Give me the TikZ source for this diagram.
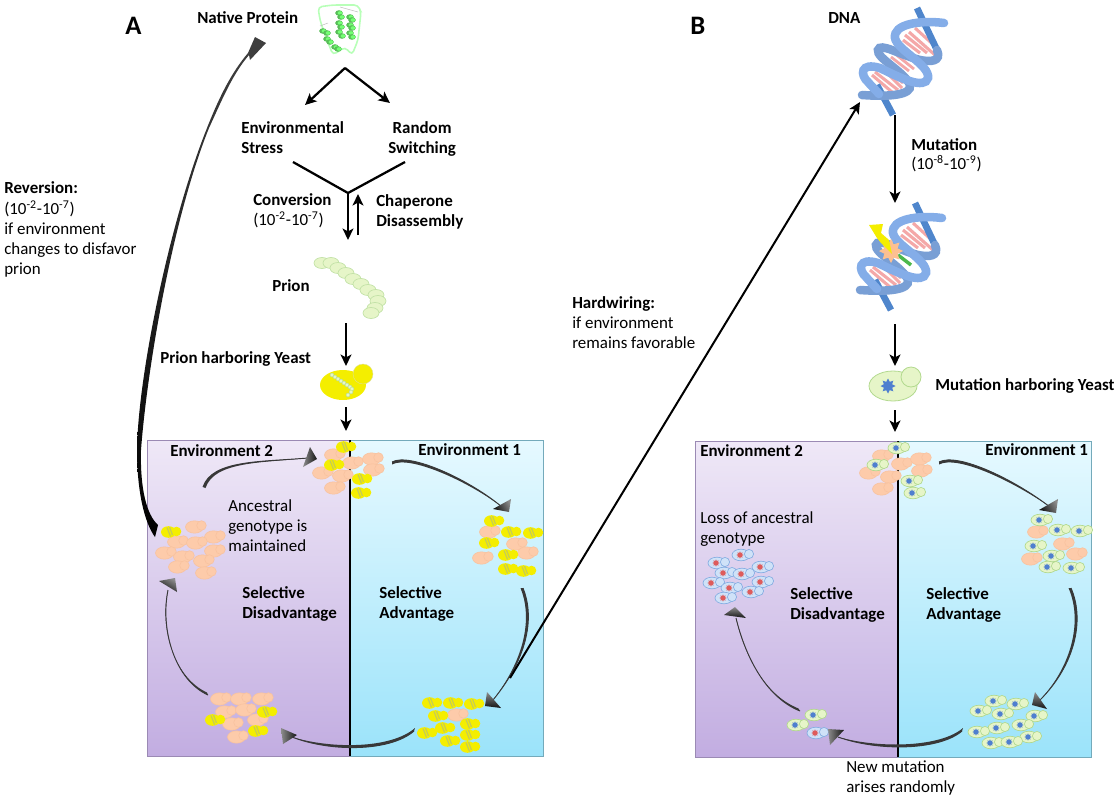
\documentclass[tikz,border=0pt]{standalone}
\usepackage{fontspec}
\setmainfont{Carlito}
\usetikzlibrary{arrows.meta,calc}
\definecolor{lpTop}{HTML}{EFE8F7}\definecolor{lpBot}{HTML}{C2ADE1}
\definecolor{rpTop}{HTML}{E6F9FF}\definecolor{rpBot}{HTML}{9BE3FA}
\definecolor{orF}{HTML}{FDCBAA}\definecolor{orD}{HTML}{F8C29E}
\definecolor{yeF}{HTML}{F4EE00}\definecolor{yeS}{HTML}{C6CC55}
\definecolor{grF}{HTML}{E6F5C8}\definecolor{grD}{HTML}{B2D98E}
\definecolor{nuB}{HTML}{4F7FCF}\definecolor{nuR}{HTML}{DE5B5B}
\definecolor{blF}{HTML}{CFE2F8}\definecolor{blD}{HTML}{86AEE2}
\definecolor{ribL}{HTML}{84ADE8}\definecolor{ribD}{HTML}{4F86CC}
\definecolor{rung}{HTML}{F4A8A8}
\tikzset{
 lab/.style={anchor=north west,inner sep=0pt,align=left,execute at begin node={\strut},font=\fontsize{12.7}{15}\selectfont},
 labb/.style={lab,font=\fontsize{12.7}{15}\selectfont\bfseries},
 flow/.style={line width=1.7pt,-{Stealth[length=8.5pt,width=8pt,inset=2pt]}},
 plainline/.style={line width=1.7pt},
}
\newcommand\spark[4]{\fill[#4,shift={(#1,#2)},scale=#3] (0:1)--(22:.6)--(45:1)--(67:.6)--(90:1)--(112:.6)--(135:1)--(157:.6)--(180:1)--(202:.6)--(225:1)--(247:.6)--(270:1)--(292:.6)--(315:1)--(337:.6)--cycle;}
\newcommand\orc[2]{\begin{scope}[shift={(#1,#2)}]
 \filldraw[fill=orF,draw=orD,line width=.4pt] (-1.5,0) ellipse [x radius=9,y radius=6.2];
 \filldraw[fill=orF,draw=orD,line width=.4pt] (5.5,-1.5) circle [radius=4.8];\end{scope}}
\newcommand\yec[2]{\begin{scope}[shift={(#1,#2)}]
 \fill[yeF] (-2.5,0) ellipse [x radius=7.5,y radius=5.8];
 \fill[yeF] (5.5,-.5) circle [radius=4.8];
 \draw[yeS,line width=.9pt] (-4,-4.5)--(-.5,4.5) (-1.5,-5)--(1.5,3);\end{scope}}
\newcommand\grc[2]{\begin{scope}[shift={(#1,#2)}]
 \filldraw[fill=grF,draw=grD,line width=.5pt] (-1,0) ellipse [x radius=9,y radius=5.8];
 \filldraw[fill=grF,draw=grD,line width=.5pt] (7,-1) circle [radius=4.6];
 \spark{-2}{0}{3.6}{nuB}\end{scope}}
\newcommand\blc[2]{\begin{scope}[shift={(#1,#2)}]
 \filldraw[fill=blF,draw=blD,line width=.5pt] (-1,0) ellipse [x radius=9,y radius=5.8];
 \filldraw[fill=blF,draw=blD,line width=.5pt] (7,-1) circle [radius=4.6];
 \spark{-2}{0}{3.6}{nuR}\end{scope}}
\newcommand\taper[5]{\fill[black!78] (#1) .. controls (#2) and (#3) .. (#4) .. controls ($(#3)+(#5)$) and ($(#2)+(#5)$) .. ($(#1)+(#5)$) -- cycle;
 \draw[black!78,line width=.7pt] (#1) .. controls (#2) and (#3) .. (#4);}
\newcommand\head[4]{\shade[top color=black!45,bottom color=black!92,shading angle=#4] (#1) -- (#2) -- (#3) -- cycle;}
\newcommand\rungset[1]{\begin{scope}[shift={(#1)}]
 \draw[white,line width=13pt,line cap=round] (909,35)--(930,52) (878,74)--(897,89);
 \draw[rung,line width=2.3pt] (915,28)--(937,48) (909,32)--(935,55) (905,35)--(927,53) (903,40)--(920,53)
  (885,67)--(903,83) (882,68)--(902,88) (875,72)--(898,90) (872,75)--(892,92);\end{scope}}
\newcommand\strandset[1]{\begin{scope}[shift={(#1)}]
 \draw[ribD,line width=5pt] (917,8)--(937,50) (877,85)--(893,115);
 \draw[ribL!92!black,line width=6.4pt,line cap=round] (937,50) .. controls (942,62) and (930,62) .. (920,60) .. controls (900,55) and (880,42) .. (878,50) .. controls (876,58) and (905,72) .. (910,85) .. controls (912,95) and (890,97) .. (862,95);
 \draw[ribL,line width=6.4pt,line cap=round] (944,23) .. controls (920,20) and (893,24) .. (895,38) .. controls (897,50) and (930,65) .. (928,78) .. controls (925,90) and (900,78) .. (880,68) .. controls (860,62) and (860,75) .. (868,82) .. controls (872,87) and (876,90) .. (879,94);
 \end{scope}}
\begin{document}
\begin{tikzpicture}[x=0.75pt,y=-0.75pt]
\useasboundingbox (0,0) rectangle (1118,800);
% panels
\shade[top color=lpTop,bottom color=lpBot] (147,440) rectangle (350,756);
\shade[top color=rpTop,bottom color=rpBot] (350,440) rectangle (543,756);
\draw[black!20!lpBot,line width=.6pt] (350,440)--(147,440)--(147,756)--(350,756);
\draw[rpBot!75!black,line width=.6pt] (350,440)--(543,440)--(543,756)--(350,756);
\draw[line width=2pt] (350,440)--(350,756);
\shade[top color=lpTop,bottom color=lpBot] (695,441) rectangle (898,757);
\shade[top color=rpTop,bottom color=rpBot] (898,441) rectangle (1091,757);
\draw[black!20!lpBot,line width=.6pt] (898,441)--(695,441)--(695,757)--(898,757);
\draw[rpBot!75!black,line width=.6pt] (898,441)--(1091,441)--(1091,757)--(898,757);
\draw[line width=2pt] (898,441)--(898,757);
% cells A
\foreach \p/\q in {335/455,353/463,373/459,323/473,343/476,374/470,335/488, 490/532,517/544,528/553,483/558, 458/715, 221/699,241/699,263/699,226/712,246/710,258/720,233/724,238/737, 196/527,215/537,178/542,197/543,215/551,166/553,184/557,204/561,179/567,206/573}{\orc{\p}{\q}}
\foreach \p/\q in {346/447,334/465,362/479,361/493, 494/521,511/532,533/533,489/543,508/555,508/569,526/571, 432/703,453/703,474/704,438/716,470/724,445/728,470/735,427/733,450/741,470/747, 267/712,215/720,258/731, 171/532}{\yec{\p}{\q}}
% cells B
\foreach \p/\q in {883/456,902/464,921/459,870/473,891/477,922/471,883/489, 1038/532,1064/544,1077/554,1032/559}{\orc{\p}{\q}}
\foreach \p/\q in {898/448,877/465,911/481,914/493, 1041/520,1059/530,1081/531,1035/546,1053/556,1049/567,1073/568, 995/701,1017/704,980/711,1002/714,1036/716,1022/725,998/728,978/732,1030/737,992/743,1011/742, 815/715,797/725}{\grc{\p}{\q}}
\foreach \p/\q in {817/733,742/555,718/563,762/567,725/573,743/574,762/582,713/583,731/588,752/592,725/598}{\blc{\p}{\q}}
% curved arrows A
\coordinate (a1s) at (392,462); \coordinate (a1e) at (502,507);
\taper{a1s}{410,452}{470,480}{a1e}{0,2.5}\head{511,499}{493,509}{509,512}{-60}
\coordinate (a2s) at (523,588); \coordinate (a2e) at (493,700);
\taper{a2s}{534,615}{530,655}{a2e}{-2.5,0}\head{487,692}{501,708}{485,706}{0}
\coordinate (a3s) at (414,731); \coordinate (a3e) at (292,737);
\taper{a3s}{390,752}{330,752}{a3e}{1,-3}\head{281,728}{297,735}{283,744}{90}
\coordinate (a4s) at (208,695); \coordinate (a4e) at (168,590);
\taper{a4s}{175,680}{160,630}{a4e}{-1,-2.5}\head{159,581}{175,578}{177,592}{-30}
\coordinate (a5s) at (203,487); \coordinate (a5e) at (308,458);
\taper{a5s}{212,460}{260,462}{a5e}{2.5,1}\head{310,447}{317,459}{303,467}{90}
% curved arrows B
\coordinate (b1s) at (939,462); \coordinate (b1e) at (1050,507);
\taper{b1s}{958,452}{1015,480}{b1e}{0,2.5}\head{1058,499}{1039,510}{1056,513}{-60}
\coordinate (b2s) at (1071,588); \coordinate (b2e) at (1040,700);
\taper{b2s}{1085,620}{1075,665}{b2e}{-2.5,0}\head{1035,692}{1047,709}{1032,705}{0}
\coordinate (b3s) at (962,731); \coordinate (b3e) at (838,737);
\taper{b3s}{940,750}{880,752}{b3e}{1,-3}\head{828,729}{844,730}{830,745}{90}
\coordinate (b4s) at (800,711); \coordinate (b4e) at (736,618);
\taper{b4s}{765,697}{745,655}{b4e}{-1.5,-2.5}\head{735,607}{724,615}{746,618}{0}
% big reversal arrow
\shade[top color=black!75,middle color=black!55,bottom color=black]
 (155,537) .. controls (144,522) and (137,490) .. (137,450) .. controls (138,375) and (170,220) .. (207,128) .. controls (220,95) and (232,72) .. (248,53) -- (255,37) -- (266,43) -- (250,60) -- (249,55) .. controls (232,75) and (222,100) .. (209,128) .. controls (172,220) and (147,370) .. (141,450) .. controls (140,490) and (147,515) .. (158,525) -- cycle;
% native protein
\draw[draw=green!28,line width=1.2pt,rounded corners=3pt] (318,7)--(333,5)--(358,5)--(361,12)--(358,40)--(352,55)--(345,47)--(333,55)--(325,35)--(320,20)--cycle;
\draw[black!25,line width=.4pt] (320,26)--(328,23) (340,7)--(358,12);
\foreach \p/\q in {339/13,341/17,339/23,341/27,339/32,342/36,350/17,352/20,350/25,352/28,350/33,352/37,323/31,327/33,327/39,330/42,335/47,338/49}{\fill[green!60!black!65] (\p,\q) ellipse [x radius=3.8,y radius=2.8];\fill[green!55!white] (\p+1,\q) ellipse [x radius=2.4,y radius=1.8];}
% prion
\foreach \p/\q in {322/263,331/263,338/268,346/273,353/279,361/284,368/290,376/295,378/301,375/308,371/313}{\filldraw[fill=grF,draw=grD!80,line width=.5pt] (\p,\q) ellipse [x radius=8,y radius=5.5];}
% prion yeast
\coordinate (py) at (343,385);
\fill[yeF] (py) ellipse [x radius=23,y radius=15]; \filldraw[fill=yeF,draw=yeS!60,line width=.3pt] (363,374) circle [radius=10];
\foreach \p/\q in {332/375,335/377,338/379,341/381,344/383,347/385,350/387,352/389,351/392,348/395}{\filldraw[fill=grF,draw=grD,line width=.3pt] (\p,\q) circle [radius=2];}
% mutation yeast
\filldraw[fill=grF,draw=grD,line width=.6pt] (893,386) ellipse [x radius=24,y radius=15];
\filldraw[fill=grF,draw=grD,line width=.6pt] (911,377) circle [radius=10];
\spark{888}{386}{7.5}{nuB}
% DNA
\rungset{0,0}
\draw[white,line width=6pt,line cap=round] (896,56)--(912,68);
\draw[rung,line width=2.1pt] (894,53)--(914,69) (891,57)--(909,71);
\strandset{0,0}
\rungset{-2,195}
\strandset{-2,195}
\draw[green!60!black!70,line width=2.6pt] (898,255)--(911,265);
\spark{891}{251}{12}{orF!85!orange}
\fill[yeF] (869,225)--(883,224)--(881,233)--(889,240)--(892,254)--(881,243)--(877,238)--cycle;
% fork and connectors
\coordinate (apex) at (345,68); \coordinate (fkL) at (305,105); \coordinate (fkR) at (390,103);
\draw[flow] (apex)--(fkL); \draw[flow] (apex)--(fkR);
\coordinate (yL) at (293,162); \coordinate (yR) at (405,162); \coordinate (yJ) at (348,193);
\draw[plainline,line join=miter] (yL)--(yJ)--(yR);
\coordinate (cdn) at (348,240); \draw[flow] (yJ)--(cdn);
\coordinate (cuS) at (358,235); \coordinate (cuE) at (358,194); \draw[flow] (cuS)--(cuE);
\coordinate (p1) at (346,323); \coordinate (p2) at (346,366); \draw[flow] (p1)--(p2);
\coordinate (p3) at (346,407); \coordinate (p4) at (346,431); \draw[flow] (p3)--(p4);
\coordinate (d1) at (895,115); \coordinate (d2) at (895,203); \draw[flow] (d1)--(d2);
\coordinate (d3) at (895,324); \coordinate (d4) at (895,366); \draw[flow] (d3)--(d4);
\coordinate (d5) at (895,410); \coordinate (d6) at (895,432); \draw[flow] (d5)--(d6);
\coordinate (hw1) at (510,678); \coordinate (hw2) at (860,102); \draw[flow,line width=1.5pt] (hw1)--(hw2);
% text
\node[lab,font=\fontsize{20}{24}\selectfont\bfseries,execute at begin node={}] (lA) at (125,12) {A};
\node[lab,font=\fontsize{20}{24}\selectfont\bfseries,execute at begin node={}] (lB) at (690,12) {B};
\node[labb] (tNP) at (197,9) {Native Protein};
\node[labb] (tES) at (241,121) {Environmental\\Stress};
\node[labb,align=center] (tRS) at (388,121) {Random\\Switching};
\node[labb] (tCo) at (253,191) {Conversion};
\node[lab] (tCr) at (253,211) {(10\textsuperscript{-2}-10\textsuperscript{-7})};
\node[labb] (tCh) at (376,194) {Chaperone\\Disassembly};
\node[labb] (tPr) at (272,277) {Prion};
\node[labb] (tPY) at (160,349) {Prion harboring Yeast};
\node[labb] (tRe) at (4,179) {Reversion:};
\node[lab] (tRd) at (4,201) {(10\textsuperscript{-2}-10\textsuperscript{-7})\\if environment\\changes to disfavor\\prion};
\node[labb] (tHw) at (572,294) {Hardwiring:};
\node[lab] (tHd) at (572,317) {if environment\\remains favorable};
\node[labb] (tDN) at (828,9) {DNA};
\node[labb] (tMu) at (911,136) {Mutation};
\node[lab] (tMr) at (911,155) {(10\textsuperscript{-8}-10\textsuperscript{-9})};
\node[labb] (tMY) at (935,376) {Mutation harboring Yeast};
\node[labb] (tE2a) at (170,442) {Environment 2};
\node[labb] (tE1a) at (418,441) {Environment 1};
\node[lab] (tAn) at (228,499) {Ancestral\\genotype is\\maintained};
\node[labb] (tSDa) at (242,586) {Selective\\Disadvantage};
\node[labb] (tSAa) at (379,586) {Selective\\Advantage};
\node[labb] (tE2b) at (700,442) {Environment 2};
\node[labb] (tE1b) at (985,441) {Environment 1};
\node[lab] (tLo) at (700,511) {Loss of ancestral\\genotype};
\node[labb] (tSDb) at (790,587) {Selective\\Disadvantage};
\node[labb] (tSAb) at (926,587) {Selective\\Advantage};
\node[lab] (tNM) at (846,761) {New mutation\\arises randomly};
\end{tikzpicture}
\end{document}
